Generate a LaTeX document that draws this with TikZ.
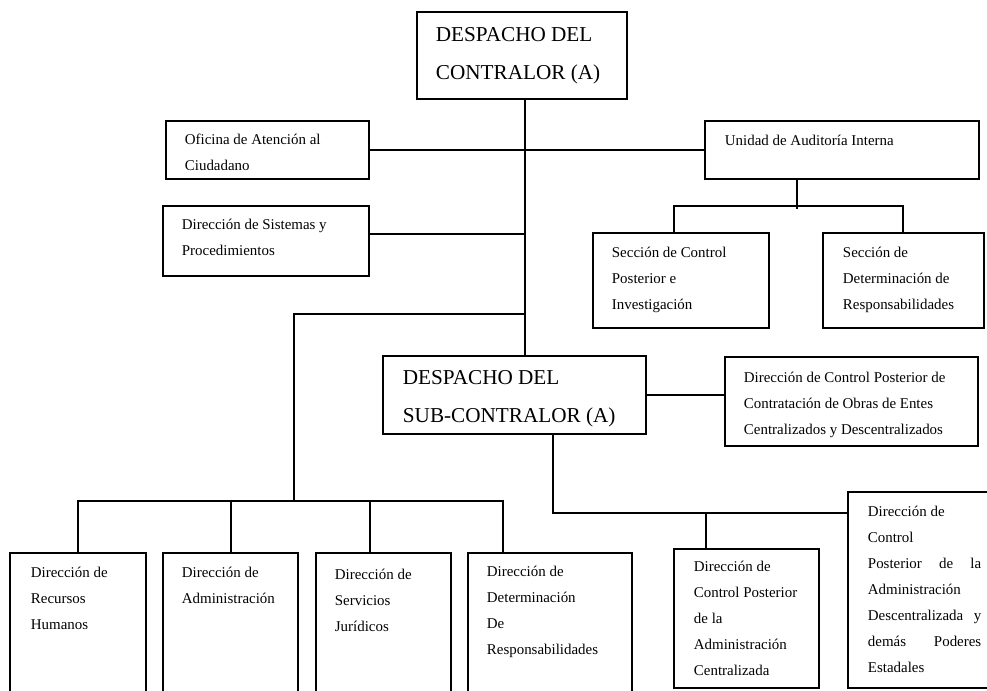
\documentclass[tikz,border=0pt]{standalone}
\usepackage{fontspec}
\setmainfont{Liberation Serif}
\usepackage{tikz}
\usetikzlibrary{positioning,fit}

\begin{document}
\begin{tikzpicture}[x=0.75pt,y=-0.75pt,line width=1.4pt,
    box/.style={draw, line width=1.4pt, inner sep=0pt},
    small/.style={anchor=base west, align=left, inner sep=0pt, font=\fontsize{11.2}{19.5}\selectfont},
    big/.style={anchor=base west, align=left, inner sep=0pt, font=\fontsize{15.9}{28}\selectfont}]
\useasboundingbox (0,0) rectangle (987,690);
\clip (0,0) rectangle (987,690);

% top level (text nodes sit on the baseline of their last line)
\node[box, fit={(417,12) (627,99)}] (contralor) {};
\node[big] (contralor-t) at (435,79) {DESPACHO DEL\\CONTRALOR (A)};
\node[box, fit={(166,121) (369,179)}] (oac) {};
\node[small] (oac-t) at (184,170) {Oficina de Atención al\\Ciudadano};
\node[box, fit={(163,206) (369,276)}] (dsp) {};
\node[small] (dsp-t) at (181,255) {Dirección de Sistemas y\\Procedimientos};
\node[box, fit={(705,121) (979,179)}] (uai) {};
\node[small] (uai-t) at (724,145) {Unidad de Auditoría Interna};
\node[box, fit={(593,233) (769,328)}] (scpi) {};
\node[small] (scpi-t) at (611,309) {Sección de Control\\Posterior e\\Investigación};
\node[box, fit={(823,233) (984,328)}] (sdr) {};
\node[small] (sdr-t) at (842,309) {Sección de\\Determinación de\\Responsabilidades};

% sub-contralor
\node[box, fit={(383,356) (646,434)}] (subcontralor) {};
\node[big] (subcontralor-t) at (402,422) {DESPACHO DEL\\SUB-CONTRALOR (A)};
\node[box, fit={(725,357) (978,446)}] (dcpo) {};
\node[small] (dcpo-t) at (743,434) {Dirección de Control Posterior de\\Contratación de Obras de Entes\\Centralizados y Descentralizados};

% bottom row
\node[box, fit={(10,553) (146,700)}] (drh) {};
\node[small] (drh-t) at (30,629) {Dirección de\\Recursos\\Humanos};
\node[box, fit={(163,553) (298,700)}] (dadm) {};
\node[small] (dadm-t) at (181,603) {Dirección de\\Administración};
\node[box, fit={(316,553) (451,700)}] (dsj) {};
\node[small] (dsj-t) at (334,631) {Dirección de\\Servicios\\Jurídicos};
\node[box, fit={(468,553) (632,700)}] (ddr) {};
\node[small] (ddr-t) at (486,654) {Dirección de\\Determinación\\De\\Responsabilidades};
\node[box, fit={(674,549) (819,688)}] (dcpac) {};
\node[small] (dcpac-t) at (693,675) {Dirección de\\Control Posterior\\de la\\Administración\\Centralizada};
\node[box, fit={(848,492) (1000,688)}] (dcpad) {};
\node[small] (dcpad-t) at (867,672) {Dirección de\\Control\\\makebox[85pt][s]{Posterior de la}\\Administración\\\makebox[85pt][s]{Descentralizada y}\\\makebox[85pt][s]{demás Poderes}\\Estadales};

% connectors
\coordinate (spine) at (525,314);
\coordinate (bus) at (294,501);
\coordinate (busadm) at (231,501);
\coordinate (bussj) at (370,501);
\coordinate (busdr) at (503,501);
\coordinate (uaidrop) at (797,206);
\coordinate (uaibusl) at (674,206);
\coordinate (uaibusr) at (903,206);
\coordinate (lowbus) at (553,513);
\coordinate (dropac) at (706,513);

\draw (contralor.south -| spine) -- (subcontralor.north -| spine);
\draw (oac.east) -- (uai.west);
\draw ([yshift=5pt]dsp.east) -- ([yshift=5pt]dsp.east -| spine);
\draw (uai.south -| uaidrop) -- ([yshift=-2pt]uaidrop);
\draw (uaibusl |- scpi.north) -- (uaibusl) -- (uaibusr) -- (uaibusr |- sdr.north);
\draw (spine) -| (bus);
\draw (drh.north) |- (busdr) -- (busdr |- ddr.north);
\draw (busadm) -- (busadm |- dadm.north);
\draw (bussj) -- (bussj |- dsj.north);
\draw (subcontralor.east) -- (subcontralor.east -| dcpo.west);
\draw (subcontralor.south -| lowbus) -- (lowbus) -- (lowbus -| dcpad.west);
\draw (dropac) -- (dropac |- dcpac.north);
\end{tikzpicture}
\end{document}
